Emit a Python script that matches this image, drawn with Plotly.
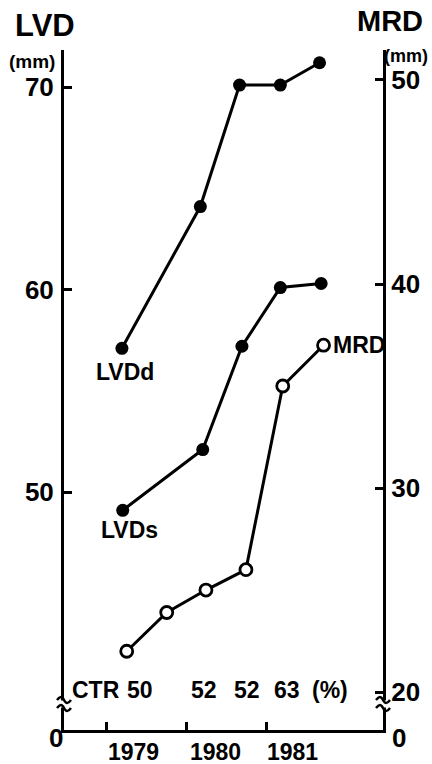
import plotly.graph_objects as go

# ---- data ----
lvdd_x = [1979.19, 1980.17, 1980.66, 1981.17, 1981.66]
lvdd_y = [57.1, 64.1, 70.1, 70.1, 71.2]

lvds_x = [1979.20, 1980.20, 1980.69, 1981.17, 1981.68]
lvds_y = [49.1, 52.1, 57.2, 60.1, 60.3]

mrd_x = [1979.25, 1979.75, 1980.24, 1980.74, 1981.20, 1981.71]
mrd_y = [22.0, 23.9, 25.0, 26.0, 35.0, 37.0]

ctr_vals = ["50", "52", "52", "63"]
ctr_x_px = [140, 205, 248, 288]

year_ticks = [1979, 1980, 1981]
year_labels = ["1979", "1980", "1981"]
year_label_px = [134, 216, 294]

lvd_ticks = [50, 60, 70]
mrd_ticks = [20, 30, 40, 50]

# ---- layout geometry (pixels) ----
W, H = 432, 764
L, R, T, B = 64, 385, 50, 730

def fx(px):
    return (px - L) / (R - L)

def fy(py):
    return (B - py) / (B - T)

FONT = "Liberation Sans"
BLK = "black"

fig = go.Figure()

fig.add_trace(go.Scatter(
    x=lvdd_x, y=lvdd_y, mode="lines+markers", name="LVDd",
    line=dict(color=BLK, width=3),
    marker=dict(color=BLK, size=13), yaxis="y"))
fig.add_trace(go.Scatter(
    x=lvds_x, y=lvds_y, mode="lines+markers", name="LVDs",
    line=dict(color=BLK, width=3),
    marker=dict(color=BLK, size=13), yaxis="y"))
fig.add_trace(go.Scatter(
    x=mrd_x, y=mrd_y, mode="lines+markers", name="MRD",
    line=dict(color=BLK, width=3),
    marker=dict(color="white", size=12, line=dict(color=BLK, width=2.8)),
    yaxis="y2"))

ann = []

def text(s, px, py, size, xanchor="center"):
    ann.append(dict(text="<b>%s</b>" % s, x=fx(px), y=fy(py), xref="paper", yref="paper",
                    xanchor=xanchor, yanchor="middle", showarrow=False,
                    font=dict(family=FONT, size=size, color=BLK)))

text("LVD", 45, 26, 31)
text("(mm)", 32, 61, 19)
text("MRD", 392, 21, 29)
text("(mm)", 408, 56, 18)
text("0", 56, 738, 26)
text("0", 401, 738, 26)
text("LVDd", 125, 372, 23)
text("LVDs", 130, 530, 23)
text("MRD", 333, 345, 23, xanchor="left")
text("CTR", 96, 690, 23)
for v, p in zip(ctr_vals, ctr_x_px):
    text(v, p, 690, 23)
text("(%)", 332, 690, 23)
for lab, p in zip(year_labels, year_label_px):
    text(lab, p, 752, 23)

shapes = []
for xa in (0, 1):
    shapes.append(dict(type="rect", xref="paper", yref="paper",
                       xsizemode="pixel", ysizemode="pixel",
                       xanchor=xa, yanchor=fy(704),
                       x0=-4, x1=4, y0=-3.5, y1=3.5,
                       fillcolor="white", line=dict(width=0), layer="above"))
    for dy in (4, -4):
        shapes.append(dict(type="path", xref="paper", yref="paper",
                           xsizemode="pixel", ysizemode="pixel",
                           xanchor=xa, yanchor=fy(704),
                           path="M-7,%g C-4,%g -2,%g 0,%g S4,%g 7,%g" % (
                               dy, dy + 4, dy + 4, dy, dy - 4, dy),
                           line=dict(color=BLK, width=2.5), layer="above"))

fig.update_layout(
    width=W, height=H, autosize=False,
    margin=dict(l=L, r=W - R, t=T, b=H - B),
    paper_bgcolor="white", plot_bgcolor="white",
    showlegend=False,
    xaxis=dict(range=[1978.466, 1982.453], tickvals=year_ticks, ticks="inside",
               ticklen=8, tickwidth=2.5, tickcolor=BLK, showticklabels=False,
               showline=True, linewidth=3, linecolor=BLK,
               showgrid=False, zeroline=False, fixedrange=True),
    yaxis=dict(range=[38.25, 71.83], tickvals=lvd_ticks, ticks="inside",
               ticklen=8, tickwidth=2.5, tickcolor=BLK,
               showline=True, linewidth=3, linecolor=BLK,
               showgrid=False, zeroline=False,
               tickfont=dict(family=FONT, size=26, color=BLK, weight="bold"),
               ticklabelstandoff=2),
    yaxis2=dict(range=[18.14, 51.47], tickvals=mrd_ticks, ticks="inside",
                ticklen=8, tickwidth=2.5, tickcolor=BLK,
                overlaying="y", side="right", anchor="x",
                showline=True, linewidth=3, linecolor=BLK,
                showgrid=False, zeroline=False,
                tickfont=dict(family=FONT, size=26, color=BLK, weight="bold"),
                ticklabelstandoff=0),
    annotations=ann, shapes=shapes,
)

fig.write_html(
    "out.html",
    config={"displayModeBar": False},
    post_script="document.body.style.margin='0';document.body.style.padding='0';"
                "document.body.style.overflow='hidden';",
)
